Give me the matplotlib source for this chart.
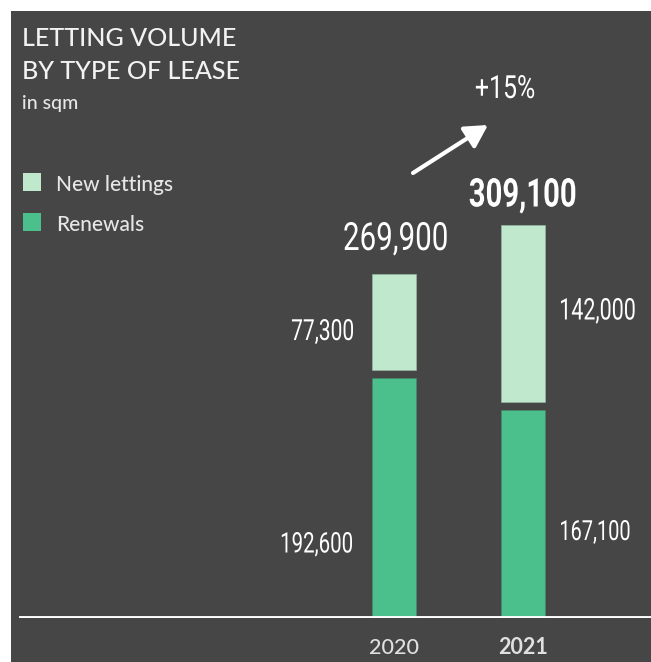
import matplotlib
matplotlib.use("Agg")
import matplotlib.pyplot as plt
from matplotlib.patches import Rectangle, FancyArrowPatch, PathPatch
from matplotlib.textpath import TextPath
from matplotlib.font_manager import FontProperties
from matplotlib.transforms import Affine2D

# data (sqm)
years = ["2020", "2021"]
renewals = [192600, 167100]
new_lettings = [77300, 142000]
totals = [269900, 309100]
growth = "+15%"
series = ["New lettings", "Renewals"]

bg = "#464646"
c_new = "#c0e8cd"
c_ren = "#4cc08c"

W, H = 651, 662
fig = plt.figure(figsize=(W / 100, H / 100), dpi=100)
fig.patch.set_facecolor("white")
fig.add_artist(Rectangle((11 / W, 0), 1, 1 - 11 / H, transform=fig.transFigure,
                         facecolor=bg, edgecolor="none", zorder=0))

ax = fig.add_axes([11 / W, 44 / H, 640 / W, 607 / H])
ax.set_facecolor("none")
ax.set_xlim(-383 / 129, 257 / 129)
ax.set_ylim(0, 488000)
ax.axis("off")

gap = 6500  # dark gap between stacked segments
x = range(len(years))
ax.bar(x, renewals, width=0.341, color=c_ren, edgecolor="#3f8f6a", linewidth=0.4, zorder=2)
ax.bar(x, new_lettings, bottom=[r + gap for r in renewals], width=0.341, color=c_new,
       edgecolor="#9cbfa8", linewidth=0.4, zorder=2)
ax.axhline(0, xmin=10 / 640, xmax=1, color="white", linewidth=2.8, zorder=3)

px = Affine2D().scale(1 / 100) + fig.dpi_scale_trans  # pixels from bottom-left


def cond_text(s, x, top_y, cap, ha="left", bold=False, squeeze=0.72, color="white"):
    # narrow numerals: Roboto squeezed horizontally
    prop = FontProperties(family="Roboto", weight="bold" if bold else "normal")
    ref = TextPath((0, 0), "0", size=100, prop=prop).get_extents()
    tp = TextPath((0, 0), s, size=100, prop=prop)
    ext = tp.get_extents()
    sy = cap / ref.y1
    sx = sy * squeeze
    w = (ext.x1 - ext.x0) * sx
    if ha == "left":
        x0 = x
    elif ha == "right":
        x0 = x - w
    else:
        x0 = x - w / 2
    base = H - top_y - cap
    tr = Affine2D().translate(-ext.x0, 0).scale(sx, sy).translate(x0, base) + px
    fig.add_artist(PathPatch(tp, transform=tr, facecolor=color, edgecolor="none", zorder=5))


def ftext(xp, yp, s, **kw):
    fig.text(xp / W, 1 - yp / H, s, **kw)


# title block
ftext(22, 46, "LETTING VOLUME", family="Lato", fontsize=18, fontweight="medium",
      color="#f2f2f2", va="baseline")
ftext(22, 79, "BY TYPE OF LEASE", family="Lato", fontsize=18, fontweight="medium",
      color="#f2f2f2", va="baseline")
ftext(22, 109, "in sqm", family="Lato", fontsize=14, fontweight="medium",
      color="#e6e6e6", va="baseline")

# legend
for i, (lab, col) in enumerate(zip(series, [c_new, c_ren])):
    y0 = 173 + i * 40
    fig.add_artist(Rectangle((23 / W, 1 - (y0 + 18) / H), 18 / W, 18 / H,
                             transform=fig.transFigure, facecolor=col, edgecolor="none"))
    ftext(56, y0 + 18, lab, family="Lato", fontsize=15, fontweight="medium",
          color="#e6e6e6", va="baseline")

# value labels
cond_text(f"{new_lettings[0]:,}", 353, 319, 21, ha="right")
cond_text(f"{renewals[0]:,}", 352, 532, 20.5, ha="right")
cond_text(f"{new_lettings[1]:,}", 561, 298, 21.5, ha="left")
cond_text(f"{renewals[1]:,}", 561, 520, 20, ha="left")
cond_text(f"{totals[0]:,}", 395.5, 222, 28, ha="center", squeeze=0.76)
cond_text(f"{totals[1]:,}", 522.5, 178, 28.5, ha="center", bold=True, squeeze=0.74)
cond_text(growth, 505, 75, 23, ha="center", squeeze=0.78)

# growth arrow
arr = FancyArrowPatch((413 / W, 1 - 173 / H), (488 / W, 1 - 125 / H),
                      transform=fig.transFigure, arrowstyle="-|>,head_length=0.9,head_width=0.5",
                      mutation_scale=15, color="white", linewidth=3, shrinkA=0, shrinkB=0)
fig.add_artist(arr)

# year labels
for i, yr in enumerate(years):
    xc = ax.transData.transform((i, 0))[0]
    ftext(xc, 654, yr, family="Lato", fontsize=15.5, color="#e0e0e0", ha="center",
          va="baseline", fontweight="bold" if i == 1 else "medium")

plt.savefig("out.png", dpi=100, facecolor=fig.get_facecolor())
